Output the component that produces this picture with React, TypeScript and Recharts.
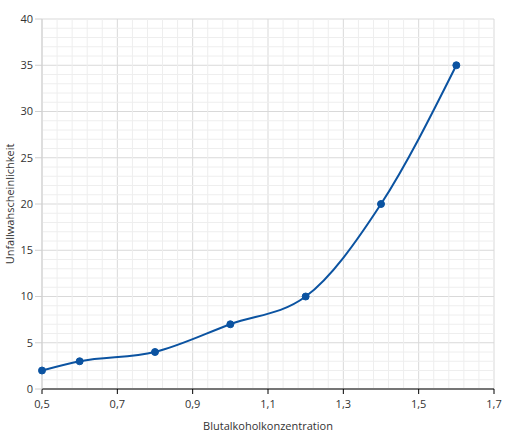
import { LineChart, Line, XAxis, YAxis, CartesianGrid, ReferenceLine } from 'recharts';

// Blutalkohol (Promille) vs. Unfallwahrscheinlichkeit
const konzentration = [0.5, 0.6, 0.8, 1.0, 1.2, 1.4, 1.6];
const wahrscheinlichkeit = [2, 3, 4, 7, 10, 20, 35];

const xTicks = [0.5, 0.7, 0.9, 1.1, 1.3, 1.5, 1.7];
const yTicks = [0, 5, 10, 15, 20, 25, 30, 35, 40];

// minor grid lines
const xMinor = [0.54, 0.58, 0.62, 0.66, 0.74, 0.78, 0.82, 0.86, 0.94, 0.98, 1.02, 1.06, 1.14, 1.18, 1.22, 1.26, 1.34, 1.38, 1.42, 1.46, 1.54, 1.58, 1.62, 1.66];
const yMinor = [1, 2, 3, 4, 6, 7, 8, 9, 11, 12, 13, 14, 16, 17, 18, 19, 21, 22, 23, 24, 26, 27, 28, 29, 31, 32, 33, 34, 36, 37, 38, 39];

const data = konzentration.map((x, i) => ({ x, y: wahrscheinlichkeit[i] }));

const font = '"Open Sans", "DejaVu Sans", sans-serif';
const fmt = (v: number) => v.toFixed(1).replace('.', ',');

export default function App() {
    return (
        <div style={{ position: 'absolute', left: 0, top: 0 }}>
            <LineChart width={507} height={436} data={data} margin={{ top: 19, right: 13, left: 0, bottom: 0 }}>
                {/* Minor grid */}
                {xMinor.map((v) => (
                    <ReferenceLine key={'mx' + v} x={v} stroke="#eeeeee" strokeWidth={1} />
                ))}
                {yMinor.map((v) => (
                    <ReferenceLine key={'my' + v} y={v} stroke="#eeeeee" strokeWidth={1} />
                ))}
                <CartesianGrid stroke="#d9d9d9" />
                <XAxis
                    dataKey="x"
                    type="number"
                    domain={[0.5, 1.7]}
                    ticks={xTicks}
                    tickFormatter={fmt}
                    height={47}
                    stroke="#000"
                    tickSize={5}
                    tick={{ fill: '#333', fontSize: 11, fontFamily: font, dy: 4 }}
                    label={{ value: 'Blutalkoholkonzentration', position: 'insideBottom', offset: 6, fill: '#333', fontSize: 11, fontFamily: font }}
                />
                <YAxis
                    type="number"
                    domain={[0, 40]}
                    ticks={yTicks}
                    width={42}
                    stroke="#d0d0d0"
                    tickSize={7}
                    tick={{ fill: '#333', fontSize: 11, fontFamily: font }}
                    label={{ value: 'Unfallwahscheinlichkeit', angle: -90, position: 'insideLeft', offset: 10, style: { textAnchor: 'middle' }, fill: '#333', fontSize: 11, fontFamily: font }}
                />
                <Line
                    type="monotone"
                    dataKey="y"
                    stroke="#0b53a1"
                    strokeWidth={2}
                    dot={{ r: 3.5, fill: '#0b53a1', stroke: '#0b53a1', strokeWidth: 1 }}
                    isAnimationActive={false}
                />
            </LineChart>
        </div>
    );
}
